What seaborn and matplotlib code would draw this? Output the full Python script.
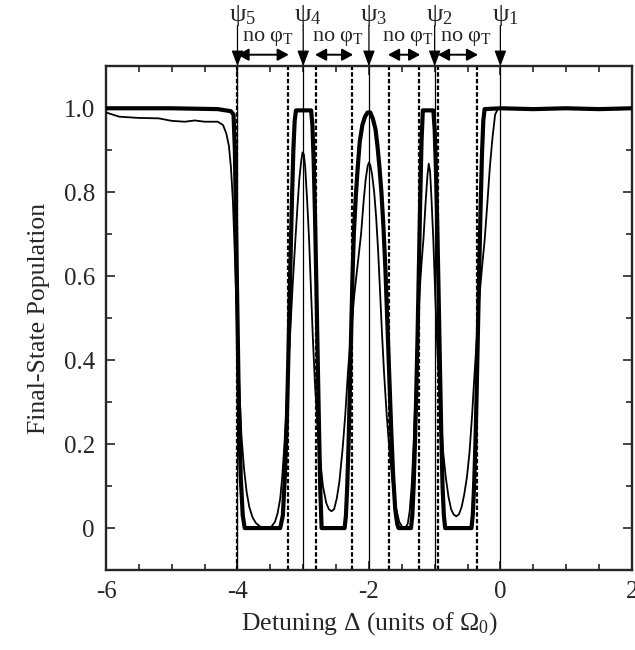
import numpy as np
import pandas as pd
import matplotlib
matplotlib.use("Agg")
import matplotlib.pyplot as plt
import seaborn as sns
from matplotlib.transforms import blended_transform_factory

# ---- data ----
thick_x = [-6.0, -5.0, -4.3, -4.1, -4.06, -4.04, -4.02, -4.0, -3.98, -3.95, -3.92, -3.89,
           -3.35, -3.31, -3.28, -3.25, -3.23, -3.21, -3.19, -3.17, -3.15, -3.13, -3.11,
           -2.88, -2.86, -2.84, -2.82, -2.80, -2.78, -2.76, -2.74, -2.72,
           -2.37, -2.35, -2.33, -2.31, -2.29, -2.27, -2.25, -2.23, -2.20, -2.17, -2.14,
           -2.10, -2.06, -2.02, -1.98, -1.94, -1.90, -1.87, -1.84, -1.81, -1.78, -1.75,
           -1.72, -1.69, -1.66, -1.63, -1.60, -1.57, -1.55,
           -1.36, -1.34, -1.32, -1.30, -1.28, -1.26, -1.24, -1.22, -1.20, -1.18,
           -1.02, -1.00, -0.98, -0.96, -0.94, -0.92, -0.90, -0.88, -0.86, -0.84,
           -0.44, -0.42, -0.40, -0.38, -0.36, -0.34, -0.32, -0.30, -0.28, -0.26, -0.24,
           0.0, 0.5, 1.0, 1.5, 2.0]
thick_y = [1.0, 1.0, 0.998, 0.993, 0.985, 0.9, 0.7, 0.5, 0.3, 0.12, 0.03, 0.0,
           0.0, 0.03, 0.12, 0.25, 0.38, 0.52, 0.66, 0.79, 0.9, 0.97, 0.995,
           0.995, 0.96, 0.87, 0.74, 0.58, 0.41, 0.24, 0.09, 0.0,
           0.0, 0.03, 0.1, 0.2, 0.33, 0.47, 0.6, 0.7, 0.79, 0.86, 0.92,
           0.96, 0.98, 0.99, 0.99, 0.975, 0.95, 0.91, 0.86, 0.8, 0.72, 0.62,
           0.49, 0.36, 0.23, 0.12, 0.045, 0.01, 0.0,
           0.0, 0.03, 0.1, 0.2, 0.32, 0.46, 0.62, 0.78, 0.92, 0.995,
           0.995, 0.95, 0.85, 0.72, 0.56, 0.39, 0.23, 0.1, 0.03, 0.0,
           0.0, 0.03, 0.1, 0.2, 0.33, 0.48, 0.63, 0.77, 0.89, 0.97, 0.998,
           1.0, 0.998, 1.0, 0.998, 1.0]

thin_x = [-6.0, -5.8, -5.5, -5.2, -5.0, -4.8, -4.65, -4.5, -4.3, -4.22, -4.17, -4.13,
          -4.10, -4.07, -4.04, -4.02, -4.0, -3.97, -3.94, -3.90, -3.86, -3.82, -3.77,
          -3.72, -3.66, -3.60, -3.54, -3.48, -3.43, -3.39, -3.35, -3.32, -3.29, -3.26,
          -3.24, -3.20, -3.16, -3.12, -3.09, -3.06, -3.03, -3.01, -2.99, -2.97, -2.94,
          -2.91, -2.88, -2.85, -2.82, -2.78, -2.74, -2.70, -2.65, -2.61, -2.57, -2.53,
          -2.49, -2.45, -2.40, -2.36, -2.32, -2.27, -2.22, -2.17, -2.12, -2.08, -2.05,
          -2.02, -2.0, -1.98, -1.95, -1.92, -1.89, -1.86, -1.83, -1.80, -1.77, -1.73,
          -1.69, -1.64, -1.59, -1.54, -1.49, -1.45, -1.41, -1.38, -1.35, -1.32, -1.29,
          -1.26, -1.23, -1.20, -1.17, -1.14, -1.11, -1.09, -1.07, -1.05, -1.02, -0.99,
          -0.96, -0.93, -0.90, -0.87, -0.83, -0.79, -0.75, -0.71, -0.67, -0.63, -0.59,
          -0.55, -0.51, -0.47, -0.43, -0.40, -0.36, -0.32, -0.28, -0.24, -0.20, -0.16,
          -0.12, -0.08, -0.04, 0.0, 2.0]
thin_y = [0.99, 0.98, 0.977, 0.976, 0.97, 0.968, 0.971, 0.968, 0.968, 0.96, 0.94, 0.91,
          0.86, 0.78, 0.65, 0.55, 0.45, 0.33, 0.22, 0.14, 0.085, 0.05, 0.025,
          0.012, 0.004, 0.0, 0.0, 0.004, 0.015, 0.035, 0.07, 0.12, 0.19, 0.27,
          0.35, 0.46, 0.58, 0.685, 0.76, 0.83, 0.875, 0.895, 0.89, 0.86, 0.78,
          0.685, 0.56, 0.44, 0.34, 0.24, 0.16, 0.10, 0.06, 0.045, 0.04, 0.045,
          0.07, 0.11, 0.19, 0.27, 0.37, 0.47, 0.56, 0.63, 0.70, 0.78, 0.83,
          0.862, 0.871, 0.865, 0.84, 0.8, 0.74, 0.66, 0.56, 0.46, 0.37, 0.27,
          0.19, 0.11, 0.05, 0.015, 0.002, 0.0, 0.01, 0.04, 0.10, 0.2, 0.32,
          0.45, 0.56, 0.63, 0.69, 0.77, 0.84, 0.868, 0.85, 0.79, 0.685, 0.55,
          0.43, 0.33, 0.25, 0.18, 0.12, 0.075, 0.045, 0.032, 0.028, 0.033, 0.05,
          0.08, 0.12, 0.18, 0.27, 0.35, 0.45, 0.55, 0.62, 0.685, 0.77, 0.86,
          0.93, 0.985, 0.998, 1.0, 1.0]

psi_x = [-4.0, -3.0, -2.0, -1.0, 0.0]
psi_subs = ["5", "4", "3", "2", "1"]
dashed_x = [-4.0, -3.23, -2.80, -2.26, -1.69, -1.24, -0.95, -0.35]
nophi_start = [-4.0, -2.82, -1.71, -0.95]
nophi_end = [-3.22, -2.24, -1.22, -0.34]
nophi_text_x = [-3.93, -2.86, -1.80, -0.92]

xticks = [-6, -4, -2, 0, 2]
xticklabels = ["-6", "-4", "-2", "0", "2"]
yticks = [0, 0.2, 0.4, 0.6, 0.8, 1.0]
yticklabels = ["0", "0.2", "0.4", "0.6", "0.8", "1.0"]

# ---- style ----
sns.set_style("ticks")
plt.rcParams.update({
    "font.family": ["Liberation Serif", "DejaVu Serif"],
    "mathtext.fontset": "custom",
    "mathtext.rm": "Liberation Serif",
    "mathtext.it": "Liberation Serif:italic",
    "axes.unicode_minus": False,
    "axes.linewidth": 1.7,
    "xtick.direction": "in",
    "ytick.direction": "in",
    "xtick.top": True,
    "ytick.right": True,
})

fig = plt.figure(figsize=(6.35, 6.5), dpi=100)
ax = fig.add_axes([0.167, 0.123, 0.828, 0.775])

thick = pd.DataFrame({"x": thick_x, "y": thick_y})
thin = pd.DataFrame({"x": thin_x, "y": thin_y})

for xv in dashed_x:
    ax.axvline(xv, color="black", lw=1.6, ls=(0, (2.0, 1.0)), zorder=1)
for xv in psi_x:
    ax.axvline(xv, color="black", lw=0.9, zorder=1)

sns.lineplot(data=thin, x="x", y="y", ax=ax, color="black", lw=1.3,
             estimator=None, sort=False, zorder=3)
sns.lineplot(data=thick, x="x", y="y", ax=ax, color="black", lw=3.0,
             estimator=None, sort=False, zorder=4)

ax.set_xlim(-6, 2)
ax.set_ylim(-0.1, 1.1)
ax.set_xticks(xticks)
ax.set_xticklabels(xticklabels)
ax.set_yticks(yticks)
ax.set_yticklabels(yticklabels)
ax.set_xticks(np.arange(-5.5, 2.0, 0.5), minor=True)
ax.set_yticks(np.arange(-0.1, 1.11, 0.1), minor=True)
ax.tick_params(which="major", length=6.5, width=1.2, labelsize=18, pad=8,
               top=True, right=True)
ax.tick_params(which="minor", length=4, width=1.2, top=True, right=True)
ax.set_xlabel("Detuning Δ (units of Ω$_\\mathrm{0}$)", fontsize=18.5, labelpad=5)
ax.set_ylabel("Final-State Population", fontsize=18.5, labelpad=10)

trans = blended_transform_factory(ax.transData, ax.transAxes)
for xv, sub in zip(psi_x, psi_subs):
    ax.annotate("", xy=(xv, 1.0), xycoords=trans, xytext=(xv, 1.081), textcoords=trans,
                arrowprops=dict(arrowstyle="-|>,head_length=0.8,head_width=0.3",
                                color="black", lw=0.9, shrinkA=0, shrinkB=0,
                                mutation_scale=12), annotation_clip=False)
    ax.annotate("ψ$_\\mathrm{" + sub + "}$", xy=(xv, 1.100), xycoords=trans,
                xytext=(3.5, 0), textcoords="offset points", ha="center",
                va="center", fontsize=19, annotation_clip=False)

for xs, xe, xt in zip(nophi_start, nophi_end, nophi_text_x):
    ax.annotate("", xy=(xe, 1.023), xycoords=trans, xytext=(xs, 1.023), textcoords=trans,
                arrowprops=dict(arrowstyle="<|-|>,head_length=0.55,head_width=0.3",
                                color="black", lw=1.4, shrinkA=0, shrinkB=0,
                                mutation_scale=12), annotation_clip=False)
    ax.text(xt, 1.056, "no φ$_\\mathrm{T}$", transform=trans, ha="left", va="center",
            fontsize=16)

sns.despine(ax=ax, top=False, right=False)
fig.savefig("out.png", dpi=100)
